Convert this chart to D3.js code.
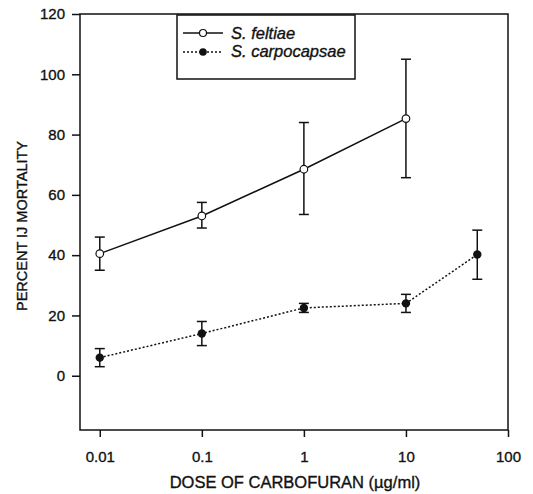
<!DOCTYPE html>
<html>
<head>
<meta charset="utf-8">
<script src="https://cdn.jsdelivr.net/npm/d3@7"></script>
<style>
  body { margin: 0; background: #fff; }
  text { font-family: "Liberation Sans", Arial, sans-serif; fill: #111; stroke: #111; stroke-width: 0.35px; }
</style>
</head>
<body>
<svg id="chart"></svg>
<script>
const width = 533;
const height = 494;

// data
const feltiaeDose = [0.01, 0.1, 1, 10];
const feltiaeMean = [40.5, 53, 68.5, 85.3];
const feltiaeLow = [35, 49, 53.5, 65.7];
const feltiaeHigh = [46, 57.5, 84, 105];

const carpoDose = [0.01, 0.1, 1, 10, 50];
const carpoMean = [6, 14, 22.5, 24, 40.2];
const carpoLow = [3, 10, 21, 21, 32];
const carpoHigh = [9, 18, 24, 27, 48.3];

const xTicks = [0.01, 0.1, 1, 10, 100];
const yTicks = [0, 20, 40, 60, 80, 100, 120];

const margin = {top: 14, right: 25, bottom: 64, left: 80};

var svg = d3.select('#chart')
  .attr('width', width)
  .attr('height', height);

var x = d3.scaleLog()
  .domain([0.0064, 100])
  .range([margin.left, width - margin.right]);

var y = d3.scaleLinear()
  .domain([-18, 120])
  .range([height - margin.bottom, margin.top]);

function series(dose, mean, low, high) {
  return dose.map((d, i) => ({dose: d, mean: mean[i], low: low[i], high: high[i]}));
}
var feltiae = series(feltiaeDose, feltiaeMean, feltiaeLow, feltiaeHigh);
var carpo = series(carpoDose, carpoMean, carpoLow, carpoHigh);

// frame
svg.append('rect')
  .attr('x', x.range()[0])
  .attr('y', y.range()[1])
  .attr('width', x.range()[1] - x.range()[0])
  .attr('height', y.range()[0] - y.range()[1])
  .attr('fill', 'none')
  .attr('stroke', '#111')
  .attr('stroke-width', 1.5);

// axes
var xAxis = d3.axisBottom(x)
  .tickValues(xTicks)
  .tickFormat(d => d3.format('~g')(d))
  .tickSize(7)
  .tickPadding(14);

var gx = svg.append('g')
  .attr('transform', 'translate(0,' + y.range()[0] + ')')
  .call(xAxis);

var yAxis = d3.axisLeft(y)
  .tickValues(yTicks)
  .tickSize(8)
  .tickPadding(7);

var gy = svg.append('g')
  .attr('transform', 'translate(' + x.range()[0] + ',0)')
  .call(yAxis);

[gx, gy].forEach(g => {
  g.select('.domain').remove();
  g.selectAll('.tick line').attr('stroke', '#111').attr('stroke-width', 1.5);
  g.selectAll('.tick text')
    .style('font-size', '15px')
    .style('font-family', '"Liberation Sans", Arial, sans-serif')
    .attr('fill', '#111');
});

// axis titles
svg.append('text')
  .attr('x', 295)
  .attr('y', 488)
  .attr('text-anchor', 'middle')
  .style('font-size', '16.5px')
  .text('DOSE OF CARBOFURAN (\u00b5g/ml)');

svg.append('text')
  .attr('transform', 'translate(27,226) rotate(-90)')
  .attr('text-anchor', 'middle')
  .style('font-size', '14.5px')
  .text('PERCENT IJ MORTALITY');

// lines
var line = d3.line()
  .x(d => x(d.dose))
  .y(d => y(d.mean));

svg.append('path')
  .datum(feltiae)
  .attr('d', line)
  .attr('fill', 'none')
  .attr('stroke', '#111')
  .attr('stroke-width', 1.5);

svg.append('path')
  .datum(carpo)
  .attr('d', line)
  .attr('fill', 'none')
  .attr('stroke', '#111')
  .attr('stroke-width', 1.5)
  .attr('stroke-dasharray', '2,2');

// error bars
function errorBars(data) {
  var g = svg.append('g').attr('stroke', '#111').attr('stroke-width', 1.5);
  g.selectAll('line.v')
    .data(data)
    .enter()
    .append('line')
    .attr('x1', d => x(d.dose))
    .attr('x2', d => x(d.dose))
    .attr('y1', d => y(d.low))
    .attr('y2', d => y(d.high));
  ['low', 'high'].forEach(k => {
    g.selectAll('line.' + k)
      .data(data)
      .enter()
      .append('line')
      .attr('x1', d => x(d.dose) - 5)
      .attr('x2', d => x(d.dose) + 5)
      .attr('y1', d => y(d[k]))
      .attr('y2', d => y(d[k]));
  });
}
errorBars(feltiae);
errorBars(carpo);

// markers
svg.selectAll('circle.felt')
  .data(feltiae)
  .enter()
  .append('circle')
  .attr('cx', d => x(d.dose))
  .attr('cy', d => y(d.mean))
  .attr('r', 3.8)
  .attr('fill', '#fff')
  .attr('stroke', '#111')
  .attr('stroke-width', 1.2);

svg.selectAll('circle.carpo')
  .data(carpo)
  .enter()
  .append('circle')
  .attr('cx', d => x(d.dose))
  .attr('cy', d => y(d.mean))
  .attr('r', 4.2)
  .attr('fill', '#111');

// legend
var lg = svg.append('g');
lg.append('rect')
  .attr('x', 177)
  .attr('y', 15)
  .attr('width', 178)
  .attr('height', 64)
  .attr('fill', '#fff')
  .attr('stroke', '#111')
  .attr('stroke-width', 1.5);

lg.append('line')
  .attr('x1', 183).attr('x2', 223).attr('y1', 33).attr('y2', 33)
  .attr('stroke', '#111').attr('stroke-width', 1.5);
lg.append('circle')
  .attr('cx', 203).attr('cy', 33).attr('r', 3.5)
  .attr('fill', '#fff').attr('stroke', '#111').attr('stroke-width', 1.2);
lg.append('text')
  .attr('x', 231).attr('y', 38.5)
  .style('font-size', '16.5px').style('font-style', 'italic')
  .text('S. feltiae');

lg.append('line')
  .attr('x1', 183).attr('x2', 223).attr('y1', 52).attr('y2', 52)
  .attr('stroke', '#111').attr('stroke-width', 1.5)
  .attr('stroke-dasharray', '2,2');
lg.append('circle')
  .attr('cx', 203).attr('cy', 52).attr('r', 3.8)
  .attr('fill', '#111');
lg.append('text')
  .attr('x', 231).attr('y', 57)
  .style('font-size', '16.5px').style('font-style', 'italic')
  .text('S. carpocapsae');
</script>
</body>
</html>
